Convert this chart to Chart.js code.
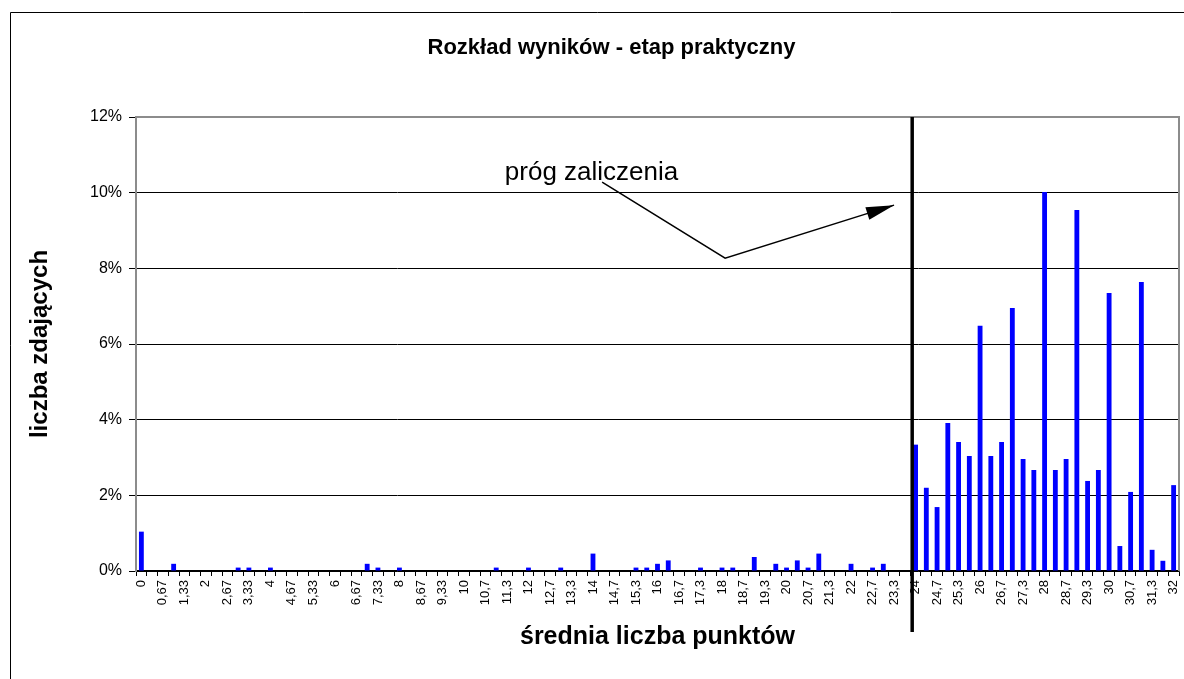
<!DOCTYPE html>
<html><head><meta charset="utf-8">
<script src="https://cdn.jsdelivr.net/npm/chart.js@4/dist/chart.umd.min.js"></script>
<style>html,body{margin:0;padding:0;background:#fff;}#wrap{position:relative;width:1184px;height:679px;}</style>
</head><body><div id="wrap"><canvas id="c" width="1184" height="679"></canvas></div>
<script>
const categories = ['0','0,33','0,67','1','1,33','1,67','2','2,33','2,67','3','3,33','3,67','4','4,33','4,67','5','5,33','5,67','6','6,33','6,67','7','7,33','7,67','8','8,33','8,67','9','9,33','9,67','10','10,3','10,7','11','11,3','11,7','12','12,3','12,7','13','13,3','13,7','14','14,3','14,7','15','15,3','15,7','16','16,3','16,7','17','17,3','17,7','18','18,3','18,7','19','19,3','19,7','20','20,3','20,7','21','21,3','21,7','22','22,3','22,7','23','23,3','23,7','24','24,3','24,7','25','25,3','25,7','26','26,3','26,7','27','27,3','27,7','28','28,3','28,7','29','29,3','29,7','30','30,3','30,7','31','31,3','31,7','32'];
const shares = [
  1.04,0,0,0.19,0,0,0,0,0,0.09,
  0.09,0,0.09,0,0,0,0,0,0,0,
  0,0.19,0.09,0,0.09,0,0,0,0,0,
  0,0,0,0.09,0,0,0.09,0,0,0.09,
  0,0,0.46,0,0,0,0.09,0.09,0.19,0.28,
  0,0,0.09,0,0.09,0.09,0,0.37,0,0.19,
  0.09,0.28,0.09,0.46,0,0,0.19,0,0.09,0.19,
  0,0,3.34,2.20,1.69,3.91,3.41,3.04,6.48,3.04,
  3.41,6.95,2.96,2.67,10.02,2.67,2.96,9.54,2.38,2.67,
  7.35,0.66,2.09,7.64,0.56,0.27,2.27
];
const yTicks = [0,2,4,6,8,10,12];
const thresholdLabel = 'próg zaliczenia';
const thresholdIndex = 72;           // category "24"
const noteTextAt = [33.8, 10.34];    // [category index, %]
const arrowPath = [[42.85,10.28],[54.29,8.27],[70.0,9.67]];

const FONT = "Arial, 'Liberation Sans', sans-serif";

const decor = {
  id: 'decor',
  afterLayout(chart) {
    if (chart.titleBlock) { chart.titleBlock.left += 22; chart.titleBlock.right += 22; }
  },
  beforeDraw(chart) {
    const ctx = chart.ctx;
    ctx.save();
    ctx.fillStyle = '#fff';
    ctx.fillRect(0,0,chart.width,chart.height);
    ctx.strokeStyle = '#000';
    ctx.lineWidth = 1;
    ctx.beginPath();
    ctx.moveTo(10.5, chart.height);
    ctx.lineTo(10.5, 12.5);
    ctx.lineTo(chart.width, 12.5);
    ctx.stroke();
    ctx.restore();
  },
  afterDatasetsDraw(chart) {
    const ctx = chart.ctx, a = chart.chartArea;
    const xs = chart.scales.x, ys = chart.scales.y;
    ctx.save();
    ctx.strokeStyle = '#8c8c8c';
    ctx.lineWidth = 2;
    ctx.beginPath();
    ctx.moveTo(a.left, a.top);
    ctx.lineTo(a.right, a.top);
    ctx.lineTo(a.right, a.bottom);
    ctx.stroke();
    const tx = (xs.getPixelForValue(thresholdIndex - 1) + xs.getPixelForValue(thresholdIndex)) / 2 + 2;
    ctx.strokeStyle = '#000';
    ctx.lineWidth = 3.5;
    ctx.beginPath();
    ctx.moveTo(tx, a.top);
    ctx.lineTo(tx, a.bottom + 61);
    ctx.stroke();
    const pts = arrowPath.map(p => [xs.getPixelForValue(p[0]), ys.getPixelForValue(p[1])]);
    ctx.lineWidth = 1.5;
    ctx.beginPath();
    ctx.moveTo(pts[0][0], pts[0][1]);
    for (let i = 1; i < pts.length; i++) ctx.lineTo(pts[i][0], pts[i][1]);
    ctx.stroke();
    const e = pts[pts.length-1], s = pts[pts.length-2];
    const ang = Math.atan2(e[1]-s[1], e[0]-s[0]);
    const L = 28, W = 6.5;
    ctx.fillStyle = '#000';
    ctx.beginPath();
    ctx.moveTo(e[0], e[1]);
    ctx.lineTo(e[0] - L*Math.cos(ang) + W*Math.sin(ang), e[1] - L*Math.sin(ang) - W*Math.cos(ang));
    ctx.lineTo(e[0] - L*Math.cos(ang) - W*Math.sin(ang), e[1] - L*Math.sin(ang) + W*Math.cos(ang));
    ctx.closePath();
    ctx.fill();
    ctx.font = '26px ' + FONT;
    ctx.textAlign = 'left';
    ctx.textBaseline = 'alphabetic';
    ctx.fillText(thresholdLabel, xs.getPixelForValue(noteTextAt[0]), ys.getPixelForValue(noteTextAt[1]));
    ctx.restore();
  }
};

new Chart(document.getElementById('c'), {
  type: 'bar',
  data: {
    labels: categories,
    datasets: [{
      data: shares,
      backgroundColor: '#0000ff',
      borderWidth: 0,
      categoryPercentage: 1,
      barPercentage: 0.45
    }]
  },
  options: {
    responsive: false,
    animation: false,
    layout: { padding: { left: 0, right: 5, top: 0, bottom: 0 } },
    plugins: {
      legend: { display: false },
      tooltip: { enabled: false },
      title: {
        display: true,
        text: 'Rozkład wyników - etap praktyczny',
        color: '#000',
        font: { family: FONT, size: 22, weight: 'bold', lineHeight: 1.2 },
        padding: { top: 35, bottom: 55.6 }
      }
    },
    scales: {
      x: {
        type: 'category',
        offset: true,
        grid: { display: true, offset: true, drawOnChartArea: false, drawTicks: true, tickLength: 5, tickColor: '#000', color: '#000' },
        border: { display: true, color: '#000', width: 1.5 },
        ticks: {
          autoSkip: false, minRotation: 90, maxRotation: 90, padding: 4,
          color: '#000', font: { family: FONT, size: 13 },
          callback: function(v, i) { return i % 2 === 0 ? categories[i] : ''; }
        },
        title: {
          display: true, text: 'średnia liczba punktów', color: '#000',
          font: { family: FONT, size: 25, weight: 'bold', lineHeight: 1.2 },
          padding: { top: 0, bottom: 27 }
        },
        afterFit(scale) { scale.height = 108; scale.paddingLeft = 0; scale.paddingRight = 0; }
      },
      y: {
        min: 0, max: 12,
        afterBuildTicks(scale) { scale.ticks = yTicks.map(v => ({ value: v })); },
        grid: {
          color: ctx => (ctx.tick && ctx.tick.value === 12) ? '#8c8c8c' : '#000',
          lineWidth: 1, tickLength: 7, tickColor: '#000'
        },
        border: { display: true, color: '#8c8c8c', width: 2 },
        ticks: {
          padding: 7, color: '#000', font: { family: FONT, size: 16 },
          callback: v => v + '%'
        },
        title: {
          display: true, text: 'liczba zdających', color: '#000',
          font: { family: FONT, size: 24, weight: 'bold', lineHeight: 1.2 },
          padding: { top: 26, bottom: 0 }
        },
        afterFit(scale) { scale.width = 136; scale.paddingTop = 0; scale.paddingBottom = 0; }
      }
    }
  },
  plugins: [decor]
});
</script>
</body></html>
